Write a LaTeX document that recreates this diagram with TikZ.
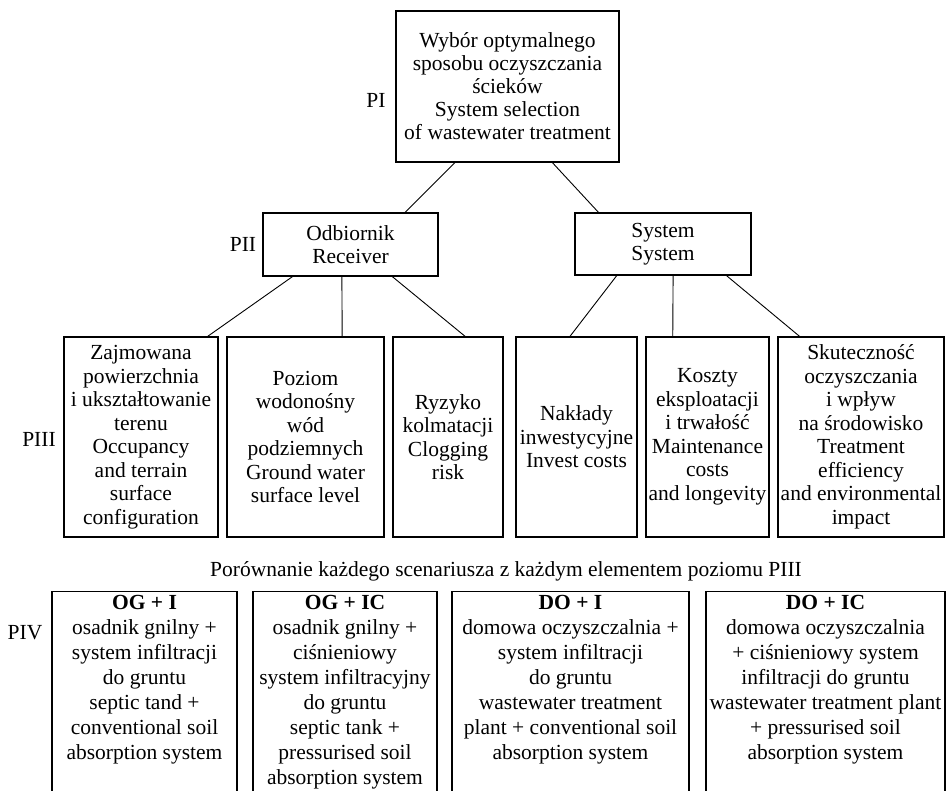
\documentclass[tikz,border=0pt]{standalone}
\usepackage{fontspec}
\setmainfont{Liberation Serif}
\usetikzlibrary{calc}
\newcommand\fntA{\fontsize{21.5}{23}\selectfont}
\newcommand\fntB{\fontsize{21.5}{23.5}\selectfont}
\newcommand\fntC{\fontsize{21.5}{25}\selectfont}
\begin{document}
\begin{tikzpicture}[x=1pt,y=-1pt,
  box/.style={draw, line width=1.1pt, inner sep=0pt, align=center},
  frame/.style={draw, line width=1.1pt, inner sep=0pt, anchor=north},
  ptxt/.style={inner sep=0pt, align=center, anchor=north, font=\fntC},
  lbl/.style={inner sep=0pt, font=\fntA},
  conn/.style={line width=0.9pt}
]
\useasboundingbox (0,0) rectangle (949,791);
\clip (0,0) rectangle (949,791);

% Level PI
\node[box, minimum width=223pt, minimum height=151pt, font=\fntA] (pi) at (507.5,86.5)
  {Wybór optymalnego\\sposobu oczyszczania\\ścieków\\System selection\\of wastewater treatment};
\node[lbl] (lpi) at (376,100) {PI};

% Level PII
\node[box, minimum width=175pt, minimum height=63pt, font=\fntA] (odb) at (350.5,244.5)
  {Odbiornik\\Receiver};
\node[box, minimum width=176pt, minimum height=62pt, font=\fntA] (sys) at (663,244)
  {System\\System};
\node[lbl] (lpii) at (243,244) {PII};

% Level PIII
\node[box, minimum width=154pt, minimum height=200pt, font=\fntB] (b1) at (141,437)
  {Zajmowana\\powierzchnia\\i ukształtowanie\\terenu\\Occupancy\\and terrain\\surface\\configuration};
\node[box, minimum width=157pt, minimum height=200pt, font=\fntB] (b2) at (305.5,437)
  {Poziom\\wodonośny\\wód\\podziemnych\\Ground water\\surface level};
\node[box, minimum width=110pt, minimum height=200pt, font=\fntB] (b3) at (448,437)
  {Ryzyko\\kolmatacji\\Clogging\\risk};
\node[box, minimum width=121pt, minimum height=200pt, font=\fntB] (b4) at (576.5,437)
  {Nakłady\\inwestycyjne\\Invest costs};
\node[box, minimum width=123pt, minimum height=200pt, font=\fntB] (b5) at (707.5,437)
  {Koszty\\eksploatacji\\i trwałość\\Maintenance\\costs\\and longevity};
\node[box, minimum width=166pt, minimum height=200pt, font=\fntB] (b6) at (861,437)
  {Skuteczność\\oczyszczania\\i wpływ\\na środowisko\\Treatment\\efficiency\\and environmental\\impact};
\node[lbl] (lpiii) at (39,439) {PIII};

% Connectors
\draw[conn] ($(pi.south west)!0.265!(pi.south east)$) -- ($(odb.north west)!0.81!(odb.north east)$);
\draw[conn] ($(pi.south west)!0.70!(pi.south east)$) -- ($(sys.north west)!0.136!(sys.north east)$);
\draw[conn] ($(odb.south west)!0.171!(odb.south east)$) -- ($(b1.north west)!0.929!(b1.north east)$);
\draw[conn] ($(odb.south west)!0.451!(odb.south east)$) -- ($(b2.north west)!0.732!(b2.north east)$);
\draw[conn] ($(odb.south west)!0.737!(odb.south east)$) -- ($(b3.north west)!0.655!(b3.north east)$);
\draw[conn] ($(sys.south west)!0.239!(sys.south east)$) -- ($(b4.north west)!0.446!(b4.north east)$);
\draw[conn] ($(sys.south west)!0.557!(sys.south east)$) -- ($(b5.north west)!0.22!(b5.north east)$);
\draw[conn] ($(sys.south west)!0.858!(sys.south east)$) -- ($(b6.north west)!0.133!(b6.north east)$);

% Comparison line
\node[lbl] (cmp) at (506,571) {Porównanie każdego scenariusza z każdym elementem poziomu PIII};

% Level PIV
\node[frame, minimum width=185pt, minimum height=260pt] (f1) at (144.5,591) {};
\node[frame, minimum width=184pt, minimum height=260pt] (f2) at (345,591) {};
\node[frame, minimum width=237pt, minimum height=260pt] (f3) at (570.5,591) {};
\node[frame, minimum width=239pt, minimum height=260pt] (f4) at (825.5,591) {};
\node[ptxt] (t1) at ([yshift=-4pt]f1.north)
  {\textbf{OG + I}\\osadnik gnilny +\\system infiltracji\\do gruntu\\septic tand +\\conventional soil\\absorption system};
\node[ptxt] (t2) at ([yshift=-4pt]f2.north)
  {\textbf{OG + IC}\\osadnik gnilny +\\ciśnieniowy\\system infiltracyjny\\do gruntu\\septic tank +\\pressurised soil\\absorption system};
\node[ptxt] (t3) at ([yshift=-4pt]f3.north)
  {\textbf{DO + I}\\domowa oczyszczalnia +\\system infiltracji\\do gruntu\\wastewater treatment\\plant + conventional soil\\absorption system};
\node[ptxt] (t4) at ([yshift=-4pt]f4.north)
  {\textbf{DO + IC}\\domowa oczyszczalnia\\+ ciśnieniowy system\\infiltracji do gruntu\\wastewater treatment plant\\+ pressurised soil\\absorption system};
\node[lbl] (lpiv) at (25,633) {PIV};
\end{tikzpicture}
\end{document}
